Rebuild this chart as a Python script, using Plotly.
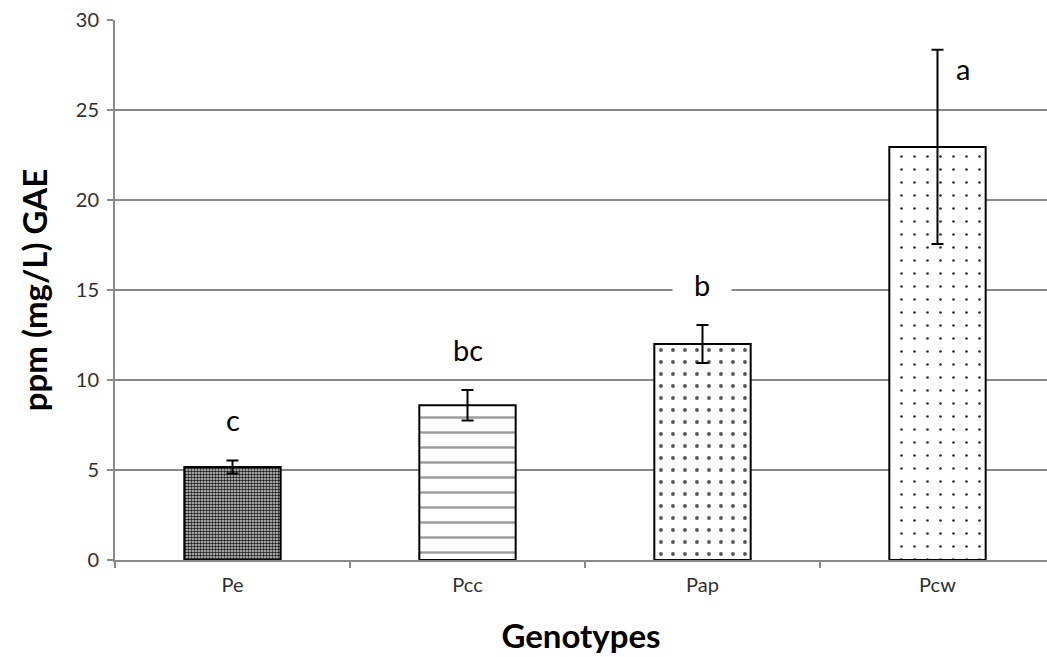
import plotly.graph_objects as go

genotypes = ["Pe", "Pcc", "Pap", "Pcw"]
means = [5.17, 8.6, 12.0, 22.95]
errors = [0.36, 0.85, 1.05, 5.4]
letters = ["c", "bc", "b", "a"]
letter_y = [7.8, 11.7, 15.3, 27.3]

patterns = [
    dict(shape=".", size=3, solidity=0.55, fgcolor="#1a1a1a", bgcolor="#d8d8d8", fillmode="replace"),
    dict(shape="-", size=15, solidity=0.16, fgcolor="#9a9a9a", bgcolor="white", fillmode="replace"),
    dict(shape=".", size=12, solidity=0.08, fgcolor="#555555", bgcolor="white", fillmode="replace"),
    dict(shape=".", size=13, solidity=0.035, fgcolor="#333333", bgcolor="white", fillmode="replace"),
]

FONT = "Lato, Open Sans, sans-serif"

fig = go.Figure()
for i, g in enumerate(genotypes):
    fig.add_trace(go.Bar(
        x=[g], y=[means[i]],
        width=0.41,
        marker=dict(color="white", pattern=patterns[i], line=dict(color="black", width=2)),
        error_y=dict(type="data", array=[errors[i]], color="black", thickness=2, width=6, visible=True),
        showlegend=False,
    ))

for i, g in enumerate(genotypes):
    ann = dict(x=g, y=letter_y[i], xref="x", yref="y", text=letters[i], showarrow=False,
               font=dict(family=FONT, size=29, color="black"))
    if letters[i] == "b":
        ann.update(bgcolor="white", width=50, borderpad=4)
    if letters[i] == "a":
        ann.update(xshift=26)
    fig.add_annotation(**ann)

fig.update_layout(
    width=1047, height=657,
    margin=dict(l=115, r=0, t=20, b=97),
    paper_bgcolor="white", plot_bgcolor="white",
    font=dict(family=FONT, color="#303030"),
    barmode="overlay",
)
fig.update_xaxes(
    categoryorder="array", categoryarray=genotypes,
    range=[-0.5, 3.466],
    showline=True, linecolor="#8a8a8a", linewidth=2,
    ticks="outside", tickson="boundaries", ticklen=6, tickcolor="#8a8a8a", tickwidth=2,
    ticklabelstandoff=6,
    tickfont=dict(size=20, color="#303030"),
    showgrid=False,
    title=dict(text="<b>Genotypes</b>", font=dict(size=33, color="black"), standoff=30),
)
fig.update_yaxes(
    range=[0, 30], dtick=5,
    showline=True, linecolor="#8a8a8a", linewidth=2,
    ticks="outside", ticklen=6, tickcolor="#8a8a8a", tickwidth=2,
    ticklabelstandoff=4,
    tickfont=dict(size=20, color="#303030"),
    showgrid=True, gridcolor="#8a8a8a", gridwidth=2,
    zeroline=False,
    title=dict(text="<b>ppm (mg/L) GAE</b>", font=dict(size=33, color="black"), standoff=18),
)

fig.write_html("out.html", config={"displayModeBar": False},
               post_script="document.body.style.margin='0px';")
